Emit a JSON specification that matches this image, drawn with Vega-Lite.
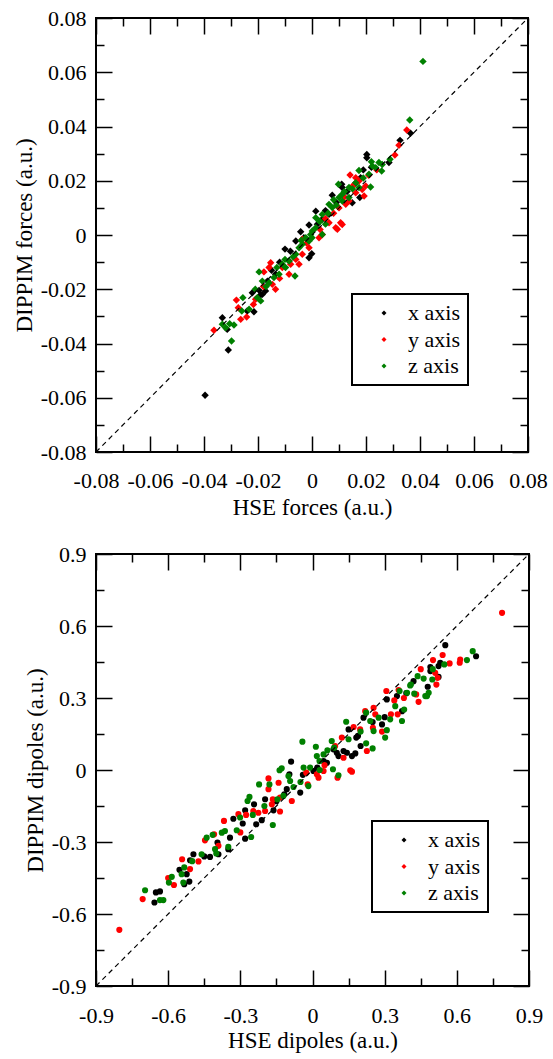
{
  "$schema": "https://vega.github.io/schema/vega-lite/v6.json",
  "padding": {"left": 12, "top": 6, "right": 0, "bottom": 0},
  "background": "white",
  "datasets": {
    "forces": [
      {"hse": -0.0396, "dippim": -0.0591, "axis": "x axis"},
      {"hse": -0.0332, "dippim": -0.0305, "axis": "x axis"},
      {"hse": -0.031, "dippim": -0.0424, "axis": "x axis"},
      {"hse": -0.0314, "dippim": -0.0348, "axis": "x axis"},
      {"hse": -0.024, "dippim": -0.028, "axis": "x axis"},
      {"hse": -0.0215, "dippim": -0.0283, "axis": "x axis"},
      {"hse": -0.0221, "dippim": -0.0213, "axis": "x axis"},
      {"hse": -0.0196, "dippim": -0.0204, "axis": "x axis"},
      {"hse": -0.0172, "dippim": -0.0206, "axis": "x axis"},
      {"hse": -0.0184, "dippim": -0.0219, "axis": "x axis"},
      {"hse": -0.0165, "dippim": -0.017, "axis": "x axis"},
      {"hse": -0.01, "dippim": -0.0052, "axis": "x axis"},
      {"hse": -0.0011, "dippim": 0.0037, "axis": "x axis"},
      {"hse": -0.0042, "dippim": 0.0012, "axis": "x axis"},
      {"hse": -0.0011, "dippim": -0.0084, "axis": "x axis"},
      {"hse": -0.0001, "dippim": -0.0069, "axis": "x axis"},
      {"hse": 0.0038, "dippim": 0.0058, "axis": "x axis"},
      {"hse": 0.0075, "dippim": 0.0147, "axis": "x axis"},
      {"hse": 0.011, "dippim": 0.0187, "axis": "x axis"},
      {"hse": 0.0149, "dippim": 0.0119, "axis": "x axis"},
      {"hse": 0.0177, "dippim": 0.0138, "axis": "x axis"},
      {"hse": 0.018, "dippim": 0.0211, "axis": "x axis"},
      {"hse": 0.0203, "dippim": 0.0297, "axis": "x axis"},
      {"hse": 0.0203, "dippim": 0.0285, "axis": "x axis"},
      {"hse": 0.0285, "dippim": 0.0267, "axis": "x axis"},
      {"hse": 0.0326, "dippim": 0.0349, "axis": "x axis"},
      {"hse": 0.0365, "dippim": 0.0375, "axis": "x axis"},
      {"hse": -0.0135, "dippim": -0.0145, "axis": "x axis"},
      {"hse": -0.006, "dippim": -0.0022, "axis": "x axis"},
      {"hse": 0.0014, "dippim": 0.0088, "axis": "x axis"},
      {"hse": 0.0063, "dippim": 0.0076, "axis": "x axis"},
      {"hse": -0.0085, "dippim": -0.0096, "axis": "x axis"},
      {"hse": 0.0112, "dippim": 0.0175, "axis": "x axis"},
      {"hse": -0.012, "dippim": -0.01, "axis": "x axis"},
      {"hse": -0.008, "dippim": -0.006, "axis": "x axis"},
      {"hse": -0.003, "dippim": -0.001, "axis": "x axis"},
      {"hse": 0.002, "dippim": 0.004, "axis": "x axis"},
      {"hse": 0.005, "dippim": 0.009, "axis": "x axis"},
      {"hse": 0.009, "dippim": 0.012, "axis": "x axis"},
      {"hse": 0.013, "dippim": 0.016, "axis": "x axis"},
      {"hse": 0.016, "dippim": 0.019, "axis": "x axis"},
      {"hse": 0.019, "dippim": 0.024, "axis": "x axis"},
      {"hse": 0.022, "dippim": 0.025, "axis": "x axis"},
      {"hse": -0.019, "dippim": -0.022, "axis": "x axis"},
      {"hse": -0.015, "dippim": -0.013, "axis": "x axis"},
      {"hse": -0.0363, "dippim": -0.0351, "axis": "y axis"},
      {"hse": -0.0273, "dippim": -0.0268, "axis": "y axis"},
      {"hse": -0.0264, "dippim": -0.0311, "axis": "y axis"},
      {"hse": -0.0242, "dippim": -0.0302, "axis": "y axis"},
      {"hse": -0.0217, "dippim": -0.0256, "axis": "y axis"},
      {"hse": -0.0209, "dippim": -0.0237, "axis": "y axis"},
      {"hse": -0.0153, "dippim": -0.0102, "axis": "y axis"},
      {"hse": -0.0159, "dippim": -0.012, "axis": "y axis"},
      {"hse": -0.0178, "dippim": -0.0136, "axis": "y axis"},
      {"hse": -0.0135, "dippim": -0.02, "axis": "y axis"},
      {"hse": -0.0147, "dippim": -0.0182, "axis": "y axis"},
      {"hse": -0.0085, "dippim": -0.0145, "axis": "y axis"},
      {"hse": -0.0079, "dippim": -0.0108, "axis": "y axis"},
      {"hse": -0.0048, "dippim": -0.0108, "axis": "y axis"},
      {"hse": -0.0036, "dippim": -0.0016, "axis": "y axis"},
      {"hse": -0.0011, "dippim": -0.0047, "axis": "y axis"},
      {"hse": 0.0038, "dippim": 0.0002, "axis": "y axis"},
      {"hse": 0.0063, "dippim": 0.0045, "axis": "y axis"},
      {"hse": 0.0088, "dippim": 0.0027, "axis": "y axis"},
      {"hse": 0.0094, "dippim": 0.0021, "axis": "y axis"},
      {"hse": 0.0106, "dippim": 0.0045, "axis": "y axis"},
      {"hse": 0.0112, "dippim": 0.0039, "axis": "y axis"},
      {"hse": 0.0125, "dippim": 0.0113, "axis": "y axis"},
      {"hse": 0.0137, "dippim": 0.0125, "axis": "y axis"},
      {"hse": 0.0141, "dippim": 0.0221, "axis": "y axis"},
      {"hse": 0.0162, "dippim": 0.0211, "axis": "y axis"},
      {"hse": 0.0174, "dippim": 0.0199, "axis": "y axis"},
      {"hse": 0.0186, "dippim": 0.0168, "axis": "y axis"},
      {"hse": 0.0193, "dippim": 0.0144, "axis": "y axis"},
      {"hse": 0.0199, "dippim": 0.0181, "axis": "y axis"},
      {"hse": 0.0307, "dippim": 0.0295, "axis": "y axis"},
      {"hse": 0.0322, "dippim": 0.0331, "axis": "y axis"},
      {"hse": 0.0351, "dippim": 0.0387, "axis": "y axis"},
      {"hse": -0.0036, "dippim": -0.0071, "axis": "y axis"},
      {"hse": 0.0026, "dippim": -0.001, "axis": "y axis"},
      {"hse": -0.011, "dippim": -0.012, "axis": "y axis"},
      {"hse": 0.0162, "dippim": 0.0156, "axis": "y axis"},
      {"hse": -0.018, "dippim": -0.019, "axis": "y axis"},
      {"hse": -0.012, "dippim": -0.016, "axis": "y axis"},
      {"hse": -0.006, "dippim": -0.009, "axis": "y axis"},
      {"hse": -0.002, "dippim": -0.003, "axis": "y axis"},
      {"hse": 0.003, "dippim": 0.002, "axis": "y axis"},
      {"hse": 0.008, "dippim": 0.008, "axis": "y axis"},
      {"hse": 0.012, "dippim": 0.014, "axis": "y axis"},
      {"hse": 0.015, "dippim": 0.018, "axis": "y axis"},
      {"hse": 0.021, "dippim": 0.022, "axis": "y axis"},
      {"hse": 0.024, "dippim": 0.024, "axis": "y axis"},
      {"hse": -0.028, "dippim": -0.024, "axis": "y axis"},
      {"hse": 0.005, "dippim": 0.006, "axis": "y axis"},
      {"hse": 0.01, "dippim": 0.01, "axis": "y axis"},
      {"hse": 0.0411, "dippim": 0.064, "axis": "z axis"},
      {"hse": 0.0362, "dippim": 0.0424, "axis": "z axis"},
      {"hse": 0.0289, "dippim": 0.0279, "axis": "z axis"},
      {"hse": 0.0258, "dippim": 0.0236, "axis": "z axis"},
      {"hse": 0.0224, "dippim": 0.0254, "axis": "z axis"},
      {"hse": 0.0248, "dippim": 0.0267, "axis": "z axis"},
      {"hse": 0.0217, "dippim": 0.0177, "axis": "z axis"},
      {"hse": 0.0174, "dippim": 0.0238, "axis": "z axis"},
      {"hse": 0.0162, "dippim": 0.0193, "axis": "z axis"},
      {"hse": 0.0098, "dippim": 0.0187, "axis": "z axis"},
      {"hse": 0.0112, "dippim": 0.015, "axis": "z axis"},
      {"hse": 0.0137, "dippim": 0.0175, "axis": "z axis"},
      {"hse": 0.0063, "dippim": 0.0113, "axis": "z axis"},
      {"hse": 0.0038, "dippim": 0.0076, "axis": "z axis"},
      {"hse": 0.0026, "dippim": 0.0052, "axis": "z axis"},
      {"hse": 0.0014, "dippim": 0.0027, "axis": "z axis"},
      {"hse": -0.0005, "dippim": 0.0002, "axis": "z axis"},
      {"hse": -0.0023, "dippim": -0.001, "axis": "z axis"},
      {"hse": -0.0036, "dippim": -0.0034, "axis": "z axis"},
      {"hse": -0.006, "dippim": -0.0071, "axis": "z axis"},
      {"hse": -0.0085, "dippim": -0.0096, "axis": "z axis"},
      {"hse": -0.0098, "dippim": -0.012, "axis": "z axis"},
      {"hse": -0.0122, "dippim": -0.0145, "axis": "z axis"},
      {"hse": -0.0141, "dippim": -0.0157, "axis": "z axis"},
      {"hse": -0.0159, "dippim": -0.0176, "axis": "z axis"},
      {"hse": -0.0184, "dippim": -0.017, "axis": "z axis"},
      {"hse": -0.0196, "dippim": -0.0136, "axis": "z axis"},
      {"hse": -0.019, "dippim": -0.0243, "axis": "z axis"},
      {"hse": -0.0203, "dippim": -0.0231, "axis": "z axis"},
      {"hse": -0.0256, "dippim": -0.0231, "axis": "z axis"},
      {"hse": -0.0233, "dippim": -0.0274, "axis": "z axis"},
      {"hse": -0.0332, "dippim": -0.0329, "axis": "z axis"},
      {"hse": -0.0305, "dippim": -0.0327, "axis": "z axis"},
      {"hse": -0.0289, "dippim": -0.0332, "axis": "z axis"},
      {"hse": -0.032, "dippim": -0.0342, "axis": "z axis"},
      {"hse": -0.0298, "dippim": -0.0391, "axis": "z axis"},
      {"hse": -0.0063, "dippim": -0.0151, "axis": "z axis"},
      {"hse": -0.0011, "dippim": -0.0022, "axis": "z axis"},
      {"hse": 0.0038, "dippim": 0.0002, "axis": "z axis"},
      {"hse": 0.0075, "dippim": 0.0101, "axis": "z axis"},
      {"hse": 0.0112, "dippim": 0.0125, "axis": "z axis"},
      {"hse": 0.0137, "dippim": 0.0138, "axis": "z axis"},
      {"hse": 0.0174, "dippim": 0.0175, "axis": "z axis"},
      {"hse": 0.0211, "dippim": 0.0224, "axis": "z axis"},
      {"hse": 0.0236, "dippim": 0.0248, "axis": "z axis"},
      {"hse": 0.0001, "dippim": 0.0015, "axis": "z axis"},
      {"hse": -0.0048, "dippim": -0.0047, "axis": "z axis"},
      {"hse": -0.011, "dippim": -0.0108, "axis": "z axis"},
      {"hse": 0.0014, "dippim": 0.0064, "axis": "z axis"},
      {"hse": 0.01, "dippim": 0.0138, "axis": "z axis"},
      {"hse": -0.017, "dippim": -0.019, "axis": "z axis"},
      {"hse": -0.013, "dippim": -0.012, "axis": "z axis"},
      {"hse": -0.007, "dippim": -0.008, "axis": "z axis"},
      {"hse": -0.004, "dippim": -0.002, "axis": "z axis"},
      {"hse": 0.0, "dippim": -0.001, "axis": "z axis"},
      {"hse": 0.003, "dippim": 0.005, "axis": "z axis"},
      {"hse": 0.006, "dippim": 0.008, "axis": "z axis"},
      {"hse": 0.009, "dippim": 0.011, "axis": "z axis"},
      {"hse": 0.012, "dippim": 0.016, "axis": "z axis"},
      {"hse": 0.015, "dippim": 0.017, "axis": "z axis"},
      {"hse": 0.019, "dippim": 0.021, "axis": "z axis"},
      {"hse": 0.022, "dippim": 0.027, "axis": "z axis"},
      {"hse": 0.026, "dippim": 0.026, "axis": "z axis"},
      {"hse": -0.021, "dippim": -0.02, "axis": "z axis"},
      {"hse": -0.026, "dippim": -0.028, "axis": "z axis"},
      {"hse": -0.01, "dippim": -0.009, "axis": "z axis"},
      {"hse": 0.005, "dippim": 0.004, "axis": "z axis"},
      {"hse": 0.008, "dippim": 0.013, "axis": "z axis"}
    ],
    "dipoles": [
      {"hse": 0.68, "dippim": 0.474, "axis": "x axis"},
      {"hse": 0.552, "dippim": 0.52, "axis": "x axis"},
      {"hse": 0.531, "dippim": 0.447, "axis": "x axis"},
      {"hse": 0.524, "dippim": 0.433, "axis": "x axis"},
      {"hse": 0.49, "dippim": 0.429, "axis": "x axis"},
      {"hse": 0.49, "dippim": 0.412, "axis": "x axis"},
      {"hse": 0.524, "dippim": 0.388, "axis": "x axis"},
      {"hse": 0.479, "dippim": 0.347, "axis": "x axis"},
      {"hse": 0.42, "dippim": 0.37, "axis": "x axis"},
      {"hse": 0.39, "dippim": 0.32, "axis": "x axis"},
      {"hse": 0.351, "dippim": 0.308, "axis": "x axis"},
      {"hse": 0.309, "dippim": 0.294, "axis": "x axis"},
      {"hse": 0.372, "dippim": 0.245, "axis": "x axis"},
      {"hse": 0.3, "dippim": 0.22, "axis": "x axis"},
      {"hse": 0.289, "dippim": 0.19, "axis": "x axis"},
      {"hse": 0.25, "dippim": 0.2, "axis": "x axis"},
      {"hse": 0.212, "dippim": 0.218, "axis": "x axis"},
      {"hse": 0.2, "dippim": 0.1, "axis": "x axis"},
      {"hse": 0.182, "dippim": 0.135, "axis": "x axis"},
      {"hse": 0.189, "dippim": 0.142, "axis": "x axis"},
      {"hse": 0.15, "dippim": 0.169, "axis": "x axis"},
      {"hse": 0.129, "dippim": 0.079, "axis": "x axis"},
      {"hse": 0.143, "dippim": 0.072, "axis": "x axis"},
      {"hse": 0.164, "dippim": 0.058, "axis": "x axis"},
      {"hse": 0.178, "dippim": 0.069, "axis": "x axis"},
      {"hse": 0.101, "dippim": 0.072, "axis": "x axis"},
      {"hse": 0.108, "dippim": 0.058, "axis": "x axis"},
      {"hse": 0.087, "dippim": 0.086, "axis": "x axis"},
      {"hse": 0.06, "dippim": 0.03, "axis": "x axis"},
      {"hse": 0.046, "dippim": 0.037, "axis": "x axis"},
      {"hse": 0.02, "dippim": 0.01, "axis": "x axis"},
      {"hse": 0.004, "dippim": -0.004, "axis": "x axis"},
      {"hse": -0.04, "dippim": -0.02, "axis": "x axis"},
      {"hse": -0.051, "dippim": -0.094, "axis": "x axis"},
      {"hse": -0.089, "dippim": 0.035, "axis": "x axis"},
      {"hse": -0.096, "dippim": -0.018, "axis": "x axis"},
      {"hse": -0.107, "dippim": -0.08, "axis": "x axis"},
      {"hse": -0.117, "dippim": -0.101, "axis": "x axis"},
      {"hse": -0.15, "dippim": -0.13, "axis": "x axis"},
      {"hse": -0.162, "dippim": -0.168, "axis": "x axis"},
      {"hse": -0.211, "dippim": -0.209, "axis": "x axis"},
      {"hse": -0.197, "dippim": -0.122, "axis": "x axis"},
      {"hse": -0.243, "dippim": -0.143, "axis": "x axis"},
      {"hse": -0.234, "dippim": -0.226, "axis": "x axis"},
      {"hse": -0.28, "dippim": -0.168, "axis": "x axis"},
      {"hse": -0.29, "dippim": -0.223, "axis": "x axis"},
      {"hse": -0.329, "dippim": -0.203, "axis": "x axis"},
      {"hse": -0.28, "dippim": -0.286, "axis": "x axis"},
      {"hse": -0.343, "dippim": -0.282, "axis": "x axis"},
      {"hse": -0.35, "dippim": -0.33, "axis": "x axis"},
      {"hse": -0.395, "dippim": -0.302, "axis": "x axis"},
      {"hse": -0.426, "dippim": -0.362, "axis": "x axis"},
      {"hse": -0.391, "dippim": -0.351, "axis": "x axis"},
      {"hse": -0.45, "dippim": -0.36, "axis": "x axis"},
      {"hse": -0.495, "dippim": -0.351, "axis": "x axis"},
      {"hse": -0.509, "dippim": -0.376, "axis": "x axis"},
      {"hse": -0.553, "dippim": -0.416, "axis": "x axis"},
      {"hse": -0.523, "dippim": -0.434, "axis": "x axis"},
      {"hse": -0.512, "dippim": -0.465, "axis": "x axis"},
      {"hse": -0.533, "dippim": -0.476, "axis": "x axis"},
      {"hse": -0.634, "dippim": -0.506, "axis": "x axis"},
      {"hse": -0.651, "dippim": -0.51, "axis": "x axis"},
      {"hse": -0.657, "dippim": -0.552, "axis": "x axis"},
      {"hse": 0.788, "dippim": 0.655, "axis": "y axis"},
      {"hse": -0.803, "dippim": -0.666, "axis": "y axis"},
      {"hse": 0.614, "dippim": 0.46, "axis": "y axis"},
      {"hse": 0.612, "dippim": 0.447, "axis": "y axis"},
      {"hse": 0.57, "dippim": 0.444, "axis": "y axis"},
      {"hse": 0.541, "dippim": 0.479, "axis": "y axis"},
      {"hse": 0.501, "dippim": 0.458, "axis": "y axis"},
      {"hse": 0.51, "dippim": 0.405, "axis": "y axis"},
      {"hse": 0.52, "dippim": 0.384, "axis": "y axis"},
      {"hse": 0.515, "dippim": 0.356, "axis": "y axis"},
      {"hse": 0.45, "dippim": 0.42, "axis": "y axis"},
      {"hse": 0.441, "dippim": 0.284, "axis": "y axis"},
      {"hse": 0.431, "dippim": 0.315, "axis": "y axis"},
      {"hse": 0.38, "dippim": 0.3, "axis": "y axis"},
      {"hse": 0.358, "dippim": 0.333, "axis": "y axis"},
      {"hse": 0.307, "dippim": 0.329, "axis": "y axis"},
      {"hse": 0.34, "dippim": 0.29, "axis": "y axis"},
      {"hse": 0.354, "dippim": 0.232, "axis": "y axis"},
      {"hse": 0.326, "dippim": 0.232, "axis": "y axis"},
      {"hse": 0.261, "dippim": 0.232, "axis": "y axis"},
      {"hse": 0.254, "dippim": 0.259, "axis": "y axis"},
      {"hse": 0.219, "dippim": 0.245, "axis": "y axis"},
      {"hse": 0.251, "dippim": 0.176, "axis": "y axis"},
      {"hse": 0.289, "dippim": 0.16, "axis": "y axis"},
      {"hse": 0.226, "dippim": 0.079, "axis": "y axis"},
      {"hse": 0.198, "dippim": 0.169, "axis": "y axis"},
      {"hse": 0.171, "dippim": 0.179, "axis": "y axis"},
      {"hse": 0.122, "dippim": 0.135, "axis": "y axis"},
      {"hse": 0.157, "dippim": -0.001, "axis": "y axis"},
      {"hse": 0.164, "dippim": -0.007, "axis": "y axis"},
      {"hse": 0.129, "dippim": 0.051, "axis": "y axis"},
      {"hse": 0.094, "dippim": 0.1, "axis": "y axis"},
      {"hse": 0.104, "dippim": -0.032, "axis": "y axis"},
      {"hse": 0.05, "dippim": 0.02, "axis": "y axis"},
      {"hse": 0.025, "dippim": -0.032, "axis": "y axis"},
      {"hse": 0.046, "dippim": -0.004, "axis": "y axis"},
      {"hse": 0.018, "dippim": -0.018, "axis": "y axis"},
      {"hse": -0.02, "dippim": -0.06, "axis": "y axis"},
      {"hse": -0.026, "dippim": -0.011, "axis": "y axis"},
      {"hse": -0.086, "dippim": -0.129, "axis": "y axis"},
      {"hse": -0.141, "dippim": -0.053, "axis": "y axis"},
      {"hse": -0.135, "dippim": -0.115, "axis": "y axis"},
      {"hse": -0.183, "dippim": -0.035, "axis": "y axis"},
      {"hse": -0.183, "dippim": -0.08, "axis": "y axis"},
      {"hse": -0.165, "dippim": -0.122, "axis": "y axis"},
      {"hse": -0.169, "dippim": -0.143, "axis": "y axis"},
      {"hse": -0.135, "dippim": -0.173, "axis": "y axis"},
      {"hse": -0.197, "dippim": -0.171, "axis": "y axis"},
      {"hse": -0.225, "dippim": -0.178, "axis": "y axis"},
      {"hse": -0.246, "dippim": -0.171, "axis": "y axis"},
      {"hse": -0.276, "dippim": -0.187, "axis": "y axis"},
      {"hse": -0.3, "dippim": -0.26, "axis": "y axis"},
      {"hse": -0.308, "dippim": -0.184, "axis": "y axis"},
      {"hse": -0.368, "dippim": -0.212, "axis": "y axis"},
      {"hse": -0.409, "dippim": -0.268, "axis": "y axis"},
      {"hse": -0.447, "dippim": -0.293, "axis": "y axis"},
      {"hse": -0.391, "dippim": -0.316, "axis": "y axis"},
      {"hse": -0.474, "dippim": -0.381, "axis": "y axis"},
      {"hse": -0.542, "dippim": -0.372, "axis": "y axis"},
      {"hse": -0.509, "dippim": -0.413, "axis": "y axis"},
      {"hse": -0.576, "dippim": -0.479, "axis": "y axis"},
      {"hse": -0.6, "dippim": -0.45, "axis": "y axis"},
      {"hse": -0.706, "dippim": -0.538, "axis": "y axis"},
      {"hse": 0.666, "dippim": 0.495, "axis": "z axis"},
      {"hse": 0.642, "dippim": 0.458, "axis": "z axis"},
      {"hse": 0.548, "dippim": 0.44, "axis": "z axis"},
      {"hse": 0.5, "dippim": 0.42, "axis": "z axis"},
      {"hse": 0.462, "dippim": 0.381, "axis": "z axis"},
      {"hse": 0.437, "dippim": 0.391, "axis": "z axis"},
      {"hse": 0.498, "dippim": 0.377, "axis": "z axis"},
      {"hse": 0.476, "dippim": 0.308, "axis": "z axis"},
      {"hse": 0.483, "dippim": 0.322, "axis": "z axis"},
      {"hse": 0.469, "dippim": 0.308, "axis": "z axis"},
      {"hse": 0.409, "dippim": 0.356, "axis": "z axis"},
      {"hse": 0.406, "dippim": 0.352, "axis": "z axis"},
      {"hse": 0.393, "dippim": 0.322, "axis": "z axis"},
      {"hse": 0.423, "dippim": 0.318, "axis": "z axis"},
      {"hse": 0.362, "dippim": 0.329, "axis": "z axis"},
      {"hse": 0.344, "dippim": 0.266, "axis": "z axis"},
      {"hse": 0.381, "dippim": 0.252, "axis": "z axis"},
      {"hse": 0.372, "dippim": 0.204, "axis": "z axis"},
      {"hse": 0.323, "dippim": 0.211, "axis": "z axis"},
      {"hse": 0.275, "dippim": 0.218, "axis": "z axis"},
      {"hse": 0.24, "dippim": 0.204, "axis": "z axis"},
      {"hse": 0.223, "dippim": 0.239, "axis": "z axis"},
      {"hse": 0.254, "dippim": 0.162, "axis": "z axis"},
      {"hse": 0.309, "dippim": 0.166, "axis": "z axis"},
      {"hse": 0.302, "dippim": 0.135, "axis": "z axis"},
      {"hse": 0.223, "dippim": 0.111, "axis": "z axis"},
      {"hse": 0.2, "dippim": 0.16, "axis": "z axis"},
      {"hse": 0.25, "dippim": 0.09, "axis": "z axis"},
      {"hse": 0.14, "dippim": 0.201, "axis": "z axis"},
      {"hse": 0.15, "dippim": 0.128, "axis": "z axis"},
      {"hse": 0.08, "dippim": 0.121, "axis": "z axis"},
      {"hse": 0.09, "dippim": 0.093, "axis": "z axis"},
      {"hse": 0.062, "dippim": 0.082, "axis": "z axis"},
      {"hse": 0.046, "dippim": 0.065, "axis": "z axis"},
      {"hse": 0.108, "dippim": -0.022, "axis": "z axis"},
      {"hse": 0.085, "dippim": 0.003, "axis": "z axis"},
      {"hse": 0.03, "dippim": 0.0, "axis": "z axis"},
      {"hse": 0.018, "dippim": 0.058, "axis": "z axis"},
      {"hse": 0.014, "dippim": 0.097, "axis": "z axis"},
      {"hse": 0.029, "dippim": 0.037, "axis": "z axis"},
      {"hse": -0.042, "dippim": 0.118, "axis": "z axis"},
      {"hse": -0.037, "dippim": 0.01, "axis": "z axis"},
      {"hse": -0.05, "dippim": -0.05, "axis": "z axis"},
      {"hse": -0.01, "dippim": 0.01, "axis": "z axis"},
      {"hse": -0.017, "dippim": -0.067, "axis": "z axis"},
      {"hse": -0.1, "dippim": -0.025, "axis": "z axis"},
      {"hse": -0.093, "dippim": -0.046, "axis": "z axis"},
      {"hse": -0.079, "dippim": -0.071, "axis": "z axis"},
      {"hse": -0.137, "dippim": -0.001, "axis": "z axis"},
      {"hse": -0.128, "dippim": 0.007, "axis": "z axis"},
      {"hse": -0.121, "dippim": -0.108, "axis": "z axis"},
      {"hse": -0.146, "dippim": -0.122, "axis": "z axis"},
      {"hse": -0.179, "dippim": -0.06, "axis": "z axis"},
      {"hse": -0.2, "dippim": -0.15, "axis": "z axis"},
      {"hse": -0.165, "dippim": -0.229, "axis": "z axis"},
      {"hse": -0.222, "dippim": -0.06, "axis": "z axis"},
      {"hse": -0.27, "dippim": -0.129, "axis": "z axis"},
      {"hse": -0.262, "dippim": -0.112, "axis": "z axis"},
      {"hse": -0.248, "dippim": -0.187, "axis": "z axis"},
      {"hse": -0.301, "dippim": -0.198, "axis": "z axis"},
      {"hse": -0.315, "dippim": -0.251, "axis": "z axis"},
      {"hse": -0.255, "dippim": -0.279, "axis": "z axis"},
      {"hse": -0.364, "dippim": -0.254, "axis": "z axis"},
      {"hse": -0.35, "dippim": -0.32, "axis": "z axis"},
      {"hse": -0.415, "dippim": -0.27, "axis": "z axis"},
      {"hse": -0.44, "dippim": -0.282, "axis": "z axis"},
      {"hse": -0.405, "dippim": -0.33, "axis": "z axis"},
      {"hse": -0.4, "dippim": -0.348, "axis": "z axis"},
      {"hse": -0.377, "dippim": -0.261, "axis": "z axis"},
      {"hse": -0.461, "dippim": -0.351, "axis": "z axis"},
      {"hse": -0.5, "dippim": -0.38, "axis": "z axis"},
      {"hse": -0.533, "dippim": -0.406, "axis": "z axis"},
      {"hse": -0.544, "dippim": -0.434, "axis": "z axis"},
      {"hse": -0.537, "dippim": -0.469, "axis": "z axis"},
      {"hse": -0.585, "dippim": -0.445, "axis": "z axis"},
      {"hse": -0.597, "dippim": -0.469, "axis": "z axis"},
      {"hse": -0.696, "dippim": -0.501, "axis": "z axis"},
      {"hse": -0.634, "dippim": -0.542, "axis": "z axis"},
      {"hse": -0.62, "dippim": -0.542, "axis": "z axis"}
    ]
  },
  "vconcat": [
    {
      "width": 432,
      "height": 434,
      "layer": [
        {
          "data": {"name": "forces"},
          "mark": {"type": "point", "shape": "diamond", "filled": true, "size": 55, "opacity": 1},
          "encoding": {
            "x": {
              "field": "hse", "type": "quantitative",
              "scale": {"domain": [-0.08, 0.08], "nice": false, "zero": false},
              "axis": {
                "orient": "bottom",
                "values": [-0.08, -0.07, -0.06, -0.05, -0.04, -0.03, -0.02, -0.01, 0, 0.01, 0.02, 0.03, 0.04, 0.05, 0.06, 0.07, 0.08],
                "tickSize": {"condition": {"test": "abs(round(datum.value*100)) % 2 == 0", "value": -16}, "value": -8},
                "labelExpr": "abs(round(datum.value*100)) % 2 == 0 ? (abs(datum.value) < 0.001 ? '0' : (datum.value < 0 ? '-' : '') + format(abs(datum.value), '.2f')) : ''",
                "labelFont": "Liberation Serif",
                "labelFontSize": 22,
                "labelPadding": 34,
                "title": "HSE forces (a.u.)",
                "titleFont": "Liberation Serif",
                "titlePadding": -3
              }
            },
            "y": {
              "field": "dippim", "type": "quantitative",
              "scale": {"domain": [-0.08, 0.08], "nice": false, "zero": false},
              "axis": {
                "orient": "left",
                "values": [-0.08, -0.07, -0.06, -0.05, -0.04, -0.03, -0.02, -0.01, 0, 0.01, 0.02, 0.03, 0.04, 0.05, 0.06, 0.07, 0.08],
                "tickSize": {"condition": {"test": "abs(round(datum.value*100)) % 2 == 0", "value": -16}, "value": -8},
                "labelExpr": "abs(round(datum.value*100)) % 2 == 0 ? (abs(datum.value) < 0.001 ? '0' : (datum.value < 0 ? '-' : '') + format(abs(datum.value), '.2f')) : ''",
                "labelFont": "Liberation Serif",
                "labelFontSize": 22,
                "labelPadding": 26,
                "title": "DIPPIM forces (a.u.)",
                "titleFont": "Liberation Serif",
                "titlePadding": 4
              }
            },
            "color": {
              "field": "axis", "type": "nominal",
              "scale": {"domain": ["x axis", "y axis", "z axis"], "range": ["#000000", "#ff0000", "#008000"]},
              "legend": {"orient": "none", "legendX": 256, "legendY": 276, "title": null, "labelFont": "Liberation Serif", "labelFontSize": 22, "labelExpr": "datum.label + '\u00a0'"}
            }
          }
        },
        {
          "data": {"values": [{"d": -0.08}, {"d": 0.08}]},
          "mark": {"type": "line", "color": "black", "strokeWidth": 1.2, "strokeDash": [5, 4]},
          "encoding": {
            "x": {
              "field": "d", "type": "quantitative",
              "axis": {
                "orient": "top",
                "values": [-0.08, -0.07, -0.06, -0.05, -0.04, -0.03, -0.02, -0.01, 0, 0.01, 0.02, 0.03, 0.04, 0.05, 0.06, 0.07, 0.08],
                "tickSize": {"condition": {"test": "abs(round(datum.value*100)) % 2 == 0", "value": -16}, "value": -8},
                "labels": false,
                "title": null
              }
            },
            "y": {
              "field": "d", "type": "quantitative",
              "axis": {
                "orient": "right",
                "values": [-0.08, -0.07, -0.06, -0.05, -0.04, -0.03, -0.02, -0.01, 0, 0.01, 0.02, 0.03, 0.04, 0.05, 0.06, 0.07, 0.08],
                "tickSize": {"condition": {"test": "abs(round(datum.value*100)) % 2 == 0", "value": -16}, "value": -8},
                "labels": false,
                "title": null
              }
            }
          }
        }
      ],
      "resolve": {"axis": {"x": "independent", "y": "independent"}}
    },
    {
      "width": 433,
      "height": 432,
      "layer": [
        {
          "data": {"name": "dipoles"},
          "mark": {"type": "circle", "size": 38, "opacity": 1},
          "encoding": {
            "x": {
              "field": "hse", "type": "quantitative",
              "scale": {"domain": [-0.9, 0.9], "nice": false, "zero": false},
              "axis": {
                "orient": "bottom",
                "values": [-0.9, -0.75, -0.6, -0.45, -0.3, -0.15, 0, 0.15, 0.3, 0.45, 0.6, 0.75, 0.9],
                "tickSize": {"condition": {"test": "abs(round(datum.value/0.15)) % 2 == 0", "value": -16}, "value": -8},
                "labelExpr": "abs(round(datum.value/0.15)) % 2 == 0 ? (abs(datum.value) < 0.001 ? '0' : (datum.value < 0 ? '-' : '') + format(abs(datum.value), '.1f')) : ''",
                "labelFont": "Liberation Serif",
                "labelFontSize": 22,
                "labelPadding": 35,
                "title": "HSE dipoles (a.u.)",
                "titleFont": "Liberation Serif",
                "titlePadding": -5
              }
            },
            "y": {
              "field": "dippim", "type": "quantitative",
              "scale": {"domain": [-0.9, 0.9], "nice": false, "zero": false},
              "axis": {
                "orient": "left",
                "values": [-0.9, -0.75, -0.6, -0.45, -0.3, -0.15, 0, 0.15, 0.3, 0.45, 0.6, 0.75, 0.9],
                "tickSize": {"condition": {"test": "abs(round(datum.value/0.15)) % 2 == 0", "value": -16}, "value": -8},
                "labelExpr": "abs(round(datum.value/0.15)) % 2 == 0 ? (abs(datum.value) < 0.001 ? '0' : (datum.value < 0 ? '-' : '') + format(abs(datum.value), '.1f')) : ''",
                "labelFont": "Liberation Serif",
                "labelFontSize": 22,
                "labelPadding": 26,
                "title": "DIPPIM dipoles (a.u.)",
                "titleFont": "Liberation Serif",
                "titlePadding": 4
              }
            },
            "color": {
              "field": "axis", "type": "nominal",
              "scale": {"domain": ["x axis", "y axis", "z axis"], "range": ["#000000", "#ff0000", "#008000"]},
              "legend": {"orient": "none", "legendX": 276, "legendY": 267, "title": null, "labelFont": "Liberation Serif", "labelFontSize": 22, "labelExpr": "datum.label + '\u00a0'"}
            }
          }
        },
        {
          "data": {"values": [{"d": -0.9}, {"d": 0.9}]},
          "mark": {"type": "line", "color": "black", "strokeWidth": 1.2, "strokeDash": [5, 4]},
          "encoding": {
            "x": {
              "field": "d", "type": "quantitative",
              "axis": {
                "orient": "top",
                "values": [-0.9, -0.75, -0.6, -0.45, -0.3, -0.15, 0, 0.15, 0.3, 0.45, 0.6, 0.75, 0.9],
                "tickSize": {"condition": {"test": "abs(round(datum.value/0.15)) % 2 == 0", "value": -16}, "value": -8},
                "labels": false,
                "title": null
              }
            },
            "y": {
              "field": "d", "type": "quantitative",
              "axis": {
                "orient": "right",
                "values": [-0.9, -0.75, -0.6, -0.45, -0.3, -0.15, 0, 0.15, 0.3, 0.45, 0.6, 0.75, 0.9],
                "tickSize": {"condition": {"test": "abs(round(datum.value/0.15)) % 2 == 0", "value": -16}, "value": -8},
                "labels": false,
                "title": null
              }
            }
          }
        }
      ],
      "resolve": {"axis": {"x": "independent", "y": "independent"}}
    }
  ],
  "spacing": 102,
  "bounds": "flush",
  "resolve": {"scale": {"color": "independent"}, "legend": {"color": "independent"}},
  "config": {
    "view": {"stroke": "black", "strokeWidth": 2},
    "axis": {
      "labelColor": "black",
      "titleFontSize": 23,
      "titleFontWeight": "normal",
      "titleColor": "black",
      "tickColor": "black",
      "tickWidth": 1.5,
      "domain": false,
      "grid": false,
      "labelOverlap": false,
      "labelFlush": false,
      "labelBound": false
    },
    "legend": {
      "symbolType": "diamond",
      "symbolSize": 25,
      "labelColor": "black",
      "strokeColor": "black",
      "strokeWidth": 2,
      "fillColor": "white",
      "padding": 8,
      "rowPadding": 4.5,
      "symbolOffset": 13,
      "labelOffset": 13
    }
  }
}
